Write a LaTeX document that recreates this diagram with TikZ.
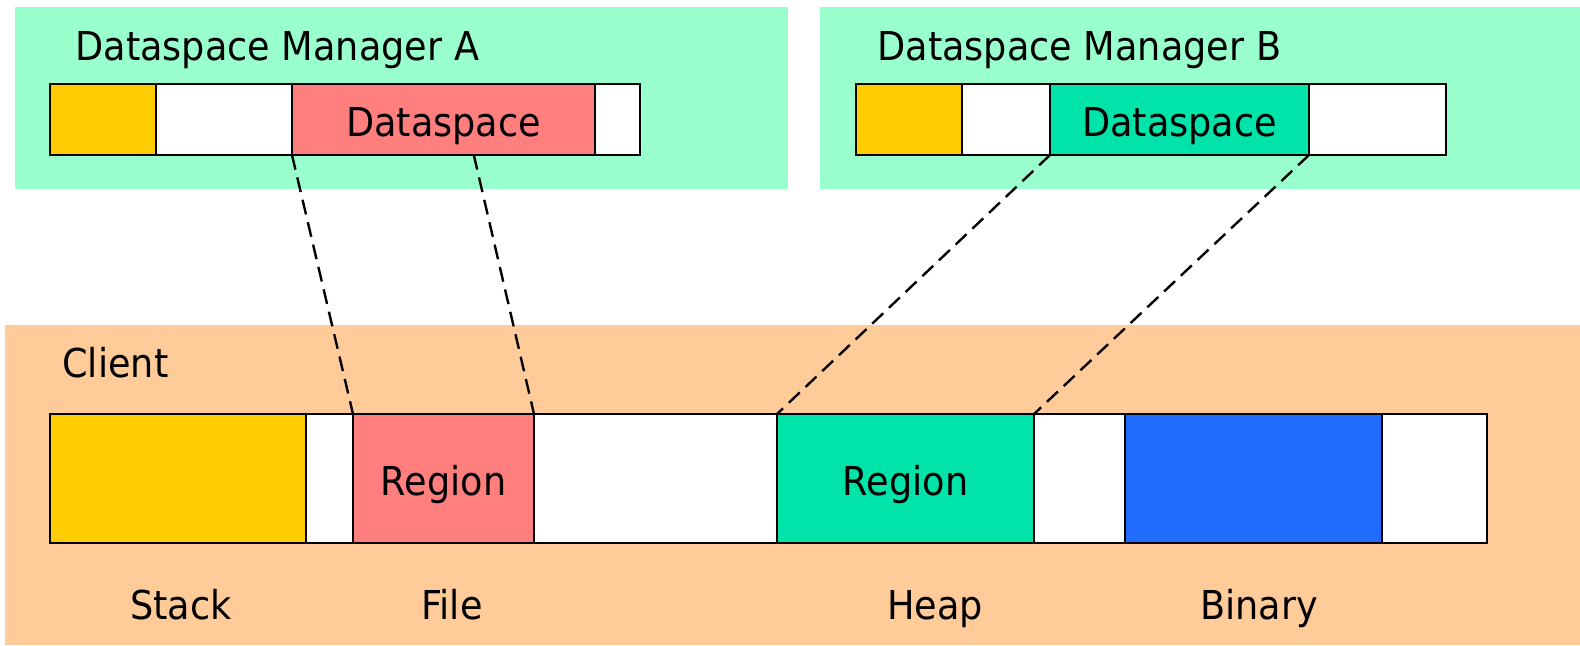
\documentclass[tikz,border=0pt]{standalone}
\usepackage{fontspec}
\setmainfont[FakeStretch=0.92]{DejaVu Sans}
\usetikzlibrary{positioning,calc}

\definecolor{mgrgreen}{HTML}{99FFCC}
\definecolor{clientorange}{HTML}{FFCC99}
\definecolor{stackyellow}{HTML}{FFCC00}
\definecolor{filepink}{HTML}{FF7F7F}
\definecolor{heapteal}{HTML}{00E3A9}
\definecolor{binblue}{HTML}{226BFF}

\begin{document}
\begin{tikzpicture}[x=0.5pt, y=-0.5pt,
  lbl/.style={font=\fontsize{19.9}{24}\selectfont, inner sep=0pt},
  seg/.style={draw, line width=1.4pt, inner sep=0pt, outer sep=0pt, fill=white, lbl,
    text height=16.9pt, text depth=0pt},
  topseg/.style={seg, minimum height=35.5pt},
  lowseg/.style={seg, minimum height=64.5pt},
  maplink/.style={line width=1.2pt, dash pattern=on 7.5pt off 4pt}]
\useasboundingbox (0,0) rectangle (1580,645);
\fill[mgrgreen] (15,7) rectangle (788,189);
\fill[mgrgreen] (820,7) rectangle (1580,189);
\fill[clientorange] (5,325) rectangle (1580,645);

\node[lbl, anchor=base west] (mgrA) at (75,60) {Dataspace Manager A};
\node[lbl, anchor=base west] (mgrB) at (877,60) {Dataspace Manager B};
\node[lbl, anchor=base west] (client) at (62,377) {Client};

\node[topseg, anchor=north west, minimum width=53pt, fill=stackyellow] (a1) at (50,84) {};
\node[topseg, right=0pt of a1, minimum width=68pt] (a2) {};
\node[topseg, right=0pt of a2, minimum width=151.5pt, fill=filepink] (dsA) {Dataspace};
\node[topseg, right=0pt of dsA, minimum width=22.5pt] (a4) {};

\node[topseg, anchor=north west, minimum width=53pt, fill=stackyellow] (b1) at (856,84) {};
\node[topseg, right=0pt of b1, minimum width=44pt] (b2) {};
\node[topseg, right=0pt of b2, minimum width=129.5pt, fill=heapteal] (dsB) {Dataspace};
\node[topseg, right=0pt of dsB, minimum width=68.5pt] (b4) {};

\node[lowseg, anchor=north west, minimum width=128pt, fill=stackyellow] (c1) at (50,414) {};
\node[lowseg, right=0pt of c1, minimum width=23.5pt] (c2) {};
\node[lowseg, right=0pt of c2, minimum width=90.5pt, fill=filepink] (regA) {Region};
\node[lowseg, right=0pt of regA, minimum width=121.5pt] (c4) {};
\node[lowseg, right=0pt of c4, minimum width=128.5pt, fill=heapteal] (regB) {Region};
\node[lowseg, right=0pt of regB, minimum width=45.5pt] (c6) {};
\node[lowseg, right=0pt of c6, minimum width=128.5pt, fill=binblue] (c7) {};
\node[lowseg, right=0pt of c7, minimum width=52.5pt] (c8) {};

\node[lbl, anchor=base] (stack) at (181,619) {Stack};
\node[lbl, anchor=base] (file) at (452,619) {File};
\node[lbl, anchor=base] (heap) at (935,619) {Heap};
\node[lbl, anchor=base] (binary) at (1259,619) {Binary};

\coordinate (dsAcut) at ($(dsA.south west)!0.6!(dsA.south east)$);
\draw[maplink] (dsA.south west) -- (regA.north west);
\draw[maplink] (dsAcut) -- (regA.north east);
\draw[maplink] (dsB.south west) -- (regB.north west);
\draw[maplink] (dsB.south east) -- (regB.north east);
\end{tikzpicture}
\end{document}
